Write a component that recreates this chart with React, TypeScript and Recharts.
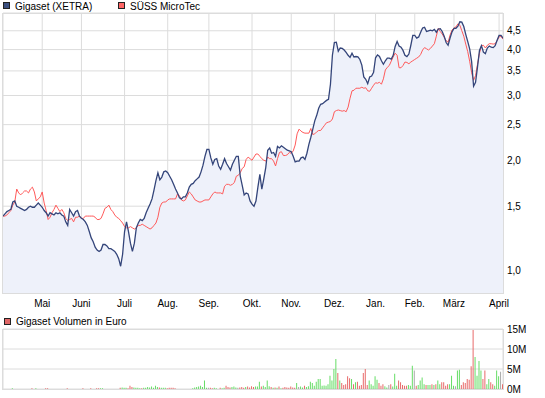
import {
  Area,
  Bar,
  CartesianGrid,
  Cell,
  ComposedChart,
  Line,
  XAxis,
  YAxis,
} from "recharts";

// Trading-day index where each month starts (Mai 2010 .. April 2011).
const monthStart = [20, 40, 62, 84, 105, 127, 147, 169, 190, 210, 230, 253];
const monthLabels = ["Mai", "Juni", "Juli", "Aug.", "Sep.", "Okt.", "Nov.", "Dez.", "Jan.", "Feb.", "März", "April"];

const priceTicks = [1, 1.5, 2, 2.5, 3, 3.5, 4, 4.5];
const volumeTicks = [0, 5, 10, 15];

// Gigaset (XETRA) close, EUR, one value per trading day.
const gigaset = [
  1.41, 1.43, 1.45, 1.46, 1.47, 1.54, 1.55, 1.5, 1.49, 1.48,
  1.47, 1.46, 1.47, 1.49, 1.5, 1.49, 1.49, 1.51, 1.53, 1.51,
  1.49, 1.46, 1.44, 1.41, 1.44, 1.43, 1.42, 1.44, 1.43, 1.44,
  1.42, 1.41, 1.36, 1.33, 1.47, 1.44, 1.41, 1.45, 1.46, 1.41,
  1.39, 1.38, 1.36, 1.33, 1.28, 1.23, 1.2, 1.16, 1.14, 1.13,
  1.14, 1.18, 1.18, 1.17, 1.15, 1.15, 1.14, 1.13, 1.11, 1.08,
  1.03, 1.11, 1.28, 1.36, 1.28, 1.19, 1.13, 1.19, 1.31, 1.35,
  1.38, 1.37, 1.39, 1.44, 1.48, 1.52, 1.57, 1.66, 1.76, 1.85,
  1.77, 1.8, 1.86, 1.87, 1.85, 1.81, 1.77, 1.72, 1.67, 1.63,
  1.58, 1.57, 1.59, 1.59, 1.63, 1.69, 1.72, 1.73, 1.76, 1.78,
  1.8, 1.86, 1.94, 2.05, 2.14, 2.14, 2.03, 1.95, 2.01, 2.02,
  1.93, 1.89, 1.95, 2.02, 1.96, 1.92, 1.88, 1.95, 2.0, 2.05,
  2.05, 1.81, 1.71, 1.61, 1.63, 1.62, 1.55, 1.52, 1.5, 1.55,
  1.69, 1.83, 1.67, 1.78, 1.91, 2.13, 2.16, 2.09, 2.1, 2.05,
  2.18, 2.16, 2.19, 2.17, 2.15, 2.13, 2.12, 2.11, 2.05, 1.98,
  1.99, 1.99, 2.03, 2.04, 2.01, 2.09, 2.21, 2.31, 2.43, 2.56,
  2.65, 2.77, 2.84, 2.85, 2.88, 2.91, 2.93, 3.22, 3.86, 4.18,
  4.19, 3.96, 4.04, 4.03, 3.99, 3.93, 3.86, 3.81, 3.91, 3.82,
  3.83, 3.82, 3.76, 3.63, 3.37, 3.32, 3.23, 3.37, 3.39, 3.47,
  3.8, 3.87, 3.83, 3.73, 3.65, 3.73, 3.79, 3.79, 3.77, 3.86,
  4.08, 4.21, 4.09, 4.06, 3.98, 3.86, 3.83, 3.89, 4.11, 4.37,
  4.37, 4.3, 4.33, 4.46, 4.58, 4.6, 4.48, 4.5, 4.52, 4.5,
  4.54, 4.46, 4.55, 4.56, 4.48, 4.35, 4.18, 4.11, 4.3, 4.47,
  4.57, 4.57, 4.63, 4.76, 4.75, 4.62, 4.4, 4.21, 4.02, 3.71,
  3.18, 3.26, 3.59, 3.98, 4.1, 3.94, 3.9, 4.04, 4.09, 4.06,
  4.05, 4.1, 4.24, 4.37, 4.37, 4.3,
];

// SÜSS MicroTec, rebased to Gigaset's first close.
const suss = [
  1.41, 1.41, 1.42, 1.44, 1.46, 1.51, 1.54, 1.67, 1.63, 1.61,
  1.63, 1.65, 1.65, 1.63, 1.67, 1.69, 1.64, 1.55, 1.57, 1.59,
  1.64, 1.53, 1.46, 1.38, 1.4, 1.44, 1.47, 1.51, 1.48, 1.45,
  1.47, 1.44, 1.39, 1.37, 1.38, 1.39, 1.36, 1.4, 1.4, 1.41,
  1.39, 1.39, 1.41, 1.41, 1.41, 1.41, 1.41, 1.4, 1.38, 1.38,
  1.39, 1.43, 1.48, 1.49, 1.51, 1.47, 1.45, 1.42, 1.4, 1.39,
  1.37, 1.35, 1.32, 1.31, 1.31, 1.32, 1.31, 1.3, 1.31, 1.33,
  1.33, 1.34, 1.33, 1.32, 1.31, 1.3, 1.31, 1.33, 1.35, 1.4,
  1.49, 1.53, 1.54, 1.54, 1.56, 1.57, 1.57, 1.57, 1.57, 1.62,
  1.6, 1.56, 1.55, 1.56, 1.6, 1.64, 1.62, 1.59, 1.56, 1.55,
  1.54, 1.54, 1.55, 1.56, 1.56, 1.56, 1.59, 1.62, 1.64, 1.63,
  1.63, 1.63, 1.62, 1.7, 1.72, 1.72, 1.71, 1.72, 1.74, 1.81,
  1.82, 1.85, 1.9, 1.92, 2.01, 2.04, 2.02, 2.0, 2.04, 2.08,
  2.08, 2.05, 2.02, 2.0, 1.99, 2.04, 2.02, 2.02, 1.99, 1.93,
  2.02, 2.1, 2.11, 2.06, 2.06, 2.07, 2.1, 2.09, 2.12, 2.2,
  2.36, 2.43, 2.4, 2.38, 2.37, 2.37, 2.37, 2.44, 2.35, 2.36,
  2.39, 2.41, 2.41, 2.45, 2.49, 2.53, 2.54, 2.55, 2.59, 2.71,
  2.73, 2.74, 2.73, 2.72, 2.73, 2.71, 2.79, 2.95, 3.09, 3.1,
  3.14, 3.14, 3.14, 3.16, 3.14, 3.15, 3.09, 3.08, 3.14, 3.2,
  3.25, 3.24, 3.26, 3.22, 3.33, 3.52, 3.58, 3.62, 3.72, 3.82,
  3.91, 3.86, 3.57, 3.57, 3.62, 3.7, 3.69, 3.66, 3.7, 3.73,
  3.76, 3.79, 3.82, 3.88, 3.99, 4.05, 4.02, 3.99, 4.03, 4.09,
  4.15, 4.35, 4.57, 4.48, 4.41, 4.32, 4.23, 4.19, 4.38, 4.52,
  4.58, 4.61, 4.7, 4.66, 4.5, 4.35, 4.14, 3.95, 3.72, 3.46,
  3.3, 3.4, 3.65, 3.91, 4.1, 4.11, 4.04, 4.11, 4.15, 4.15,
  4.14, 4.15, 4.23, 4.33, 4.35, 4.27,
];

// Gigaset daily turnover, million EUR.
const volume = [
  0, 0, 0, 0, 0, 0.2, 0, 0, 0, 0,
  0, 0, 0, 0, 0, 0.2, 0, 0.2, 0, 0,
  0, 0, 0.2, 0.2, 0, 0, 0, 0, 0, 0,
  0, 0, 0, 0.2, 0, 0, 0, 0, 0, 0,
  0, 0.2, 0, 0, 0, 0.2, 0, 0, 0.2, 0.2,
  0.2, 0.2, 0, 0, 0, 0, 0, 0, 0, 0,
  0.3, 0.4, 0.3, 0.3, 0.2, 0.8, 0.5, 0.4, 0.3, 0.3,
  0.2, 0.2, 0.3, 0.3, 0.5, 0.4, 0.6, 0.3, 0.8, 0.5,
  0.4, 0.3, 0.3, 0.3, 0.2, 0.3, 0.3, 0.3, 0.2, 0,
  0, 0, 0, 0, 0, 0, 0, 0.2, 0.4, 0.5,
  0.6, 0.8, 0.5, 2.1, 0.3, 0.3, 0.3, 0.2, 0.3, 0.2,
  0, 0.3, 0.2, 0.3, 0.8, 0.5, 0.4, 0.5, 0.6, 0.4,
  0.3, 0.4, 0.5, 0.3, 0.5, 0.6, 0.4, 0.7, 0.5, 0.6,
  0.6, 1.8, 0.6, 0.8, 0.5, 2.1, 0.7, 0.5, 0.3, 0.4,
  0.3, 0.6, 0.2, 0.3, 0.5, 0.4, 0.3, 0.6, 0.4, 0.3,
  1.5, 0.5, 0.6, 0.4, 0.8, 0.5, 0.7, 1.8, 1.5, 0.8,
  1.8, 2.5, 2.5, 0.8, 0.9, 0.8, 1.2, 3.3, 2.1, 5.0,
  7.5, 4.0, 2.1, 1.5, 1.0, 1.2, 3.2, 2.7, 2.5, 1.2,
  1.7, 1.8, 0.8, 1.0, 4.0, 5.0, 1.0, 2.1, 1.2, 0.8,
  3.2, 2.3, 1.5, 0.8, 1.2, 0.7, 0.4, 1.0, 1.2, 0.6,
  3.8, 0.8, 2.1, 1.7, 1.0, 0.8, 0.8, 1.0, 0.8, 5.8,
  4.6, 0.8, 1.0, 2.1, 2.9, 1.2, 1.0, 1.0, 1.0, 1.2,
  1.0, 1.2, 2.1, 1.2, 1.7, 1.7, 0.8, 1.2, 1.2, 3.3,
  0.8, 0.7, 4.6, 4.8, 1.0, 1.7, 1.5, 2.5, 2.3, 5.7,
  14.8, 8.0, 3.3, 7.0, 4.6, 2.5, 4.6, 1.2, 2.5, 1.7,
  1.2, 0.8, 4.6, 3.2, 4.3, 1.2,
];

const FONT = "'Liberation Sans', Arial, sans-serif";
const GRID = "#dcdcdc";
const NAVY = "#34457a";
const RED = "#ff5a5a";
const PRICE_DOMAIN: [number, number] = [0.871, 5.03];

const rows = gigaset.map((g, i) => ({
  day: i,
  gigaset: g,
  suss: suss[i],
  volume: volume[i],
  change: i === 0 ? 0 : g - gigaset[i - 1],
}));

function barColor(change: number) {
  if (change > 0.001) return "#66dd66";
  if (change < -0.001) return "#e86a6a";
  return "#aaaaaa";
}

function MonthTick({ x, y, payload }: any) {
  const label = monthLabels[monthStart.indexOf(payload.value)];
  return (
    <text x={x} y={y + 14} textAnchor="middle" fontSize={10} fontFamily={FONT} fill="#000">
      {label}
    </text>
  );
}

function RightTick({ x, y, payload, fmt }: any) {
  return (
    <text x={x} y={y + 3.5} textAnchor="start" fontSize={10} fontFamily={FONT} fill="#000">
      {fmt(payload.value)}
    </text>
  );
}

const priceFmt = (v: number) => v.toFixed(1).replace(".", ",");
const volFmt = (v: number) => `${v}M`;

function Frame({ top, height }: { top: number; height: number }) {
  return (
    <div
      style={{
        position: "absolute",
        left: 2,
        top,
        width: 502,
        height,
        boxSizing: "border-box",
        border: `1px solid ${GRID}`,
        pointerEvents: "none",
      }}
    />
  );
}

export default function App() {
  return (
    <div style={{ position: "absolute", left: 0, top: 0, width: 545, height: 398, background: "#fff" }}>
      <ComposedChart
        width={545}
        height={313}
        data={rows}
        margin={{ top: 13, right: 0, left: 3, bottom: 0 }}
      >
        <CartesianGrid stroke={GRID} />
        <XAxis
          dataKey="day"
          type="number"
          domain={[0, 255]}
          ticks={monthStart}
          interval={0}
          height={20}
          axisLine={false}
          tickLine={false}
          tickSize={0}
          tickMargin={0}
          tick={<MonthTick />}
        />
        <YAxis
          orientation="right"
          type="number"
          scale="log"
          domain={PRICE_DOMAIN}
          allowDataOverflow
          ticks={priceTicks}
          interval={0}
          width={42}
          axisLine={false}
          tickLine={false}
          tickSize={0}
          tickMargin={4}
          tick={<RightTick fmt={priceFmt} />}
        />
        <Area
          dataKey="gigaset"
          type="linear"
          baseValue="dataMin"
          stroke="none"
          fill="#eef1fa"
          fillOpacity={1}
          isAnimationActive={false}
        />
        <Line dataKey="suss" type="linear" stroke={RED} strokeWidth={1} dot={false} isAnimationActive={false} />
        <Line dataKey="gigaset" type="linear" stroke={NAVY} strokeWidth={1.3} dot={false} isAnimationActive={false} />
      </ComposedChart>

      <div style={{ position: "absolute", left: 0, top: 320 }}>
        <ComposedChart
          width={545}
          height={78}
          data={rows}
          margin={{ top: 9, right: 0, left: 3, bottom: 9 }}
        >
          <CartesianGrid stroke={GRID} />
          <XAxis
            dataKey="day"
            type="number"
            domain={[0, 255]}
            ticks={monthStart}
            interval={0}
            height={0}
            axisLine={false}
            tickLine={false}
            tick={false}
          />
          <YAxis
            orientation="right"
            type="number"
            domain={[0, 15]}
            ticks={volumeTicks}
            interval={0}
            width={42}
            axisLine={false}
            tickLine={false}
            tickSize={0}
            tickMargin={4}
            tick={<RightTick fmt={volFmt} />}
          />
          <Bar dataKey="volume" barSize={1} isAnimationActive={false}>
            {rows.map((r) => (
              <Cell key={r.day} fill={barColor(r.change)} />
            ))}
          </Bar>
        </ComposedChart>
      </div>

      <Frame top={13} height={281} />
      <Frame top={329} height={61} />

      <svg width={545} height={398} style={{ position: "absolute", left: 0, top: 0, pointerEvents: "none" }}>
        <rect x={3.5} y={2.5} width={6} height={6} fill="#3b5080" stroke="#222" />
        <text x={15} y={10} fontSize={10} fontFamily={FONT} fill="#000">Gigaset (XETRA)</text>
        <rect x={118.5} y={2.5} width={6} height={6} fill="#ff6666" stroke="#222" />
        <text x={130} y={10} fontSize={10} fontFamily={FONT} fill="#000">SÜSS MicroTec</text>
        <rect x={4.5} y={318.5} width={6} height={6} fill="#e06666" stroke="#222" />
        <text x={16} y={325} fontSize={10} fontFamily={FONT} fill="#000">Gigaset Volumen in Euro</text>
      </svg>
    </div>
  );
}
